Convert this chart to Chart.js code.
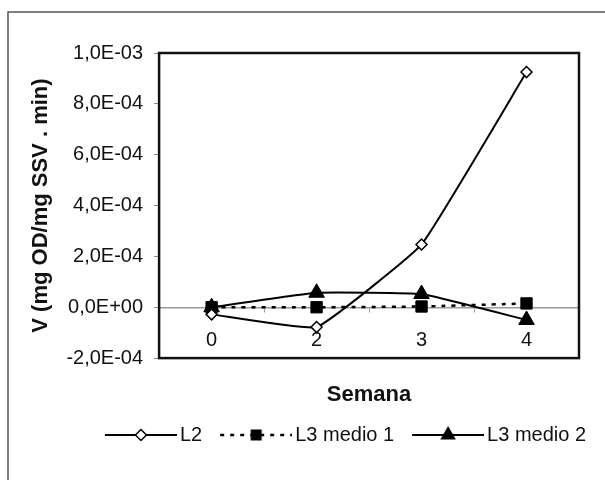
<!DOCTYPE html>
<html>
<head>
<meta charset="utf-8">
<script src="https://cdn.jsdelivr.net/npm/chart.js@4/dist/chart.umd.min.js"></script>
<style>
  html, body { margin: 0; padding: 0; background: #fff; }
  #wrap { width: 605px; height: 480px; }
</style>
</head>
<body>
<div id="wrap"><canvas id="c" width="605" height="480"></canvas></div>
<script>
// ---- data ----
const weeks = ['0', '2', '3', '4'];
const seriesNames = ['L2', 'L3 medio 1', 'L3 medio 2'];
const l2Values = [-2.8e-5, -7.8e-5, 2.47e-4, 9.25e-4];
const l3Medio1Values = [0, 0, 3e-6, 1.5e-5];
const l3Medio2Values = [0, 5.7e-5, 5.2e-5, -5.0e-5];
const yTickValues = [-2e-4, 0, 2e-4, 4e-4, 6e-4, 8e-4, 1e-3];
const yTitle = 'V (mg OD/mg SSV . min)';
const xTitle = 'Semana';

const FONT = "'Liberation Sans', Arial, Helvetica, sans-serif";
const INK = '#111';

function fmtSci(v) {
  if (Math.abs(v) < 1e-12) v = 0;
  const s = v.toExponential(1);
  const parts = s.split('e');
  const sign = parts[1][0] === '-' ? '-' : '+';
  let d = parts[1].replace(/[+-]/, '');
  if (d.length < 2) d = '0' + d;
  return parts[0].replace('.', ',') + 'E' + sign + d;
}

// legend swatches (line + marker)
function makeSwatch(kind) {
  const c = document.createElement('canvas');
  c.width = 85; c.height = 24;
  const g = c.getContext('2d');
  const x0 = 13, x1 = 85, cy = 12, cx = (x0 + x1) / 2;
  g.strokeStyle = '#000';
  g.lineWidth = kind === 'square' ? 2.5 : 2;
  if (kind === 'square') g.setLineDash([4, 6]);
  g.beginPath(); g.moveTo(x0, cy); g.lineTo(x1, cy); g.stroke();
  g.setLineDash([]);
  g.fillStyle = '#000';
  if (kind === 'diamond') {
    const r = 5.5;
    g.beginPath(); g.moveTo(cx, cy - r); g.lineTo(cx + r, cy); g.lineTo(cx, cy + r); g.lineTo(cx - r, cy); g.closePath();
    g.fillStyle = '#fff'; g.fill(); g.lineWidth = 1.5; g.stroke();
  } else if (kind === 'square') {
    g.fillRect(cx - 5.5, cy - 5.5, 11, 11);
  } else {
    const r = 9;
    g.beginPath(); g.moveTo(cx, cy - r); g.lineTo(cx + r * 0.866, cy + r / 2); g.lineTo(cx - r * 0.866, cy + r / 2); g.closePath();
    g.fill();
  }
  return c;
}
const swatches = [makeSwatch('diamond'), makeSwatch('square'), makeSwatch('triangle')];

const framePlugin = {
  id: 'frame',
  beforeDraw(chart) {
    const ctx = chart.ctx;
    ctx.save();
    ctx.fillStyle = '#fff';
    ctx.fillRect(0, 0, chart.width, chart.height);
    ctx.strokeStyle = '#555';
    ctx.lineWidth = 1.5;
    ctx.beginPath();
    ctx.moveTo(8, chart.height);
    ctx.lineTo(8, 12);
    ctx.lineTo(chart.width, 12);
    ctx.stroke();
    ctx.restore();
  },
  beforeDatasetsDraw(chart) {
    const ctx = chart.ctx, a = chart.chartArea;
    ctx.save();
    ctx.strokeStyle = '#111';
    ctx.lineWidth = 2.5;
    ctx.strokeRect(a.left, a.top, a.right - a.left, a.bottom - a.top);
    ctx.restore();
  }
};

const legendShift = {
  id: 'legendShift',
  afterLayout(chart) {
    if (chart.legend) { chart.legend.left += 49; chart.legend.right += 49; }
  }
};

new Chart(document.getElementById('c'), {
  type: 'line',
  data: {
    labels: weeks,
    datasets: [
      {
        label: seriesNames[0], data: l2Values,
        borderColor: '#000', borderWidth: 2, tension: 0.1,
        pointStyle: 'rectRot', pointRadius: 5.5, pointBackgroundColor: '#fff',
        pointBorderColor: '#000', pointBorderWidth: 1.5
      },
      {
        label: seriesNames[1], data: l3Medio1Values,
        borderColor: '#000', borderWidth: 2.5, borderDash: [4, 6], tension: 0.1,
        pointStyle: 'rect', pointRadius: 8, pointBackgroundColor: '#000',
        pointBorderColor: '#000', pointBorderWidth: 1
      },
      {
        label: seriesNames[2], data: l3Medio2Values,
        borderColor: '#000', borderWidth: 2, tension: 0.1,
        pointStyle: 'triangle', pointRadius: 9, pointBackgroundColor: '#000',
        pointBorderColor: '#000', pointBorderWidth: 1
      }
    ]
  },
  options: {
    responsive: false,
    animation: false,
    devicePixelRatio: 1,
    layout: { padding: { left: 8, right: 26, top: 53, bottom: 25 } },
    scales: {
      x: {
        type: 'category',
        position: 'bottom',
        offset: true,
        grid: { display: false, drawTicks: false },
        border: { display: false },
        ticks: { display: false },
        title: {
          display: true, text: xTitle, color: INK,
          font: { family: FONT, size: 22, weight: 'bold' },
          padding: { top: 23.5, bottom: 5 }
        }
      },
      x0: {
        type: 'category',
        position: { y: 0 },
        offset: true,
        grid: { drawOnChartArea: false, drawTicks: true, tickLength: 4, tickColor: '#999', offset: true },
        border: { display: true, color: '#999', width: 1.5 },
        ticks: { color: INK, font: { family: FONT, size: 20 }, padding: 17.5 }
      },
      y: {
        position: 'left',
        min: yTickValues[0],
        max: yTickValues[yTickValues.length - 1],
        afterBuildTicks(scale) { scale.ticks = yTickValues.map(v => ({ value: v })); },
        grid: { drawOnChartArea: false, drawTicks: true, tickLength: 5, tickColor: '#888' },
        border: { display: false },
        ticks: {
          color: INK, font: { family: FONT, size: 20 }, padding: 11,
          callback: (v) => fmtSci(v)
        },
        title: {
          display: true, text: yTitle, color: INK,
          font: { family: FONT, size: 22, weight: 'bold' },
          padding: { top: 20, bottom: 1 }
        }
      }
    },
    plugins: {
      tooltip: { enabled: false },
      legend: {
        position: 'bottom',
        labels: {
          usePointStyle: true,
          pointStyleWidth: 71,
          padding: 12,
          color: INK,
          font: { family: FONT, size: 20 },
          generateLabels(chart) {
            const items = Chart.defaults.plugins.legend.labels.generateLabels(chart);
            items.forEach((it, i) => { it.pointStyle = swatches[i]; });
            return items;
          }
        }
      }
    }
  },
  plugins: [framePlugin, legendShift]
});
</script>
</body>
</html>
